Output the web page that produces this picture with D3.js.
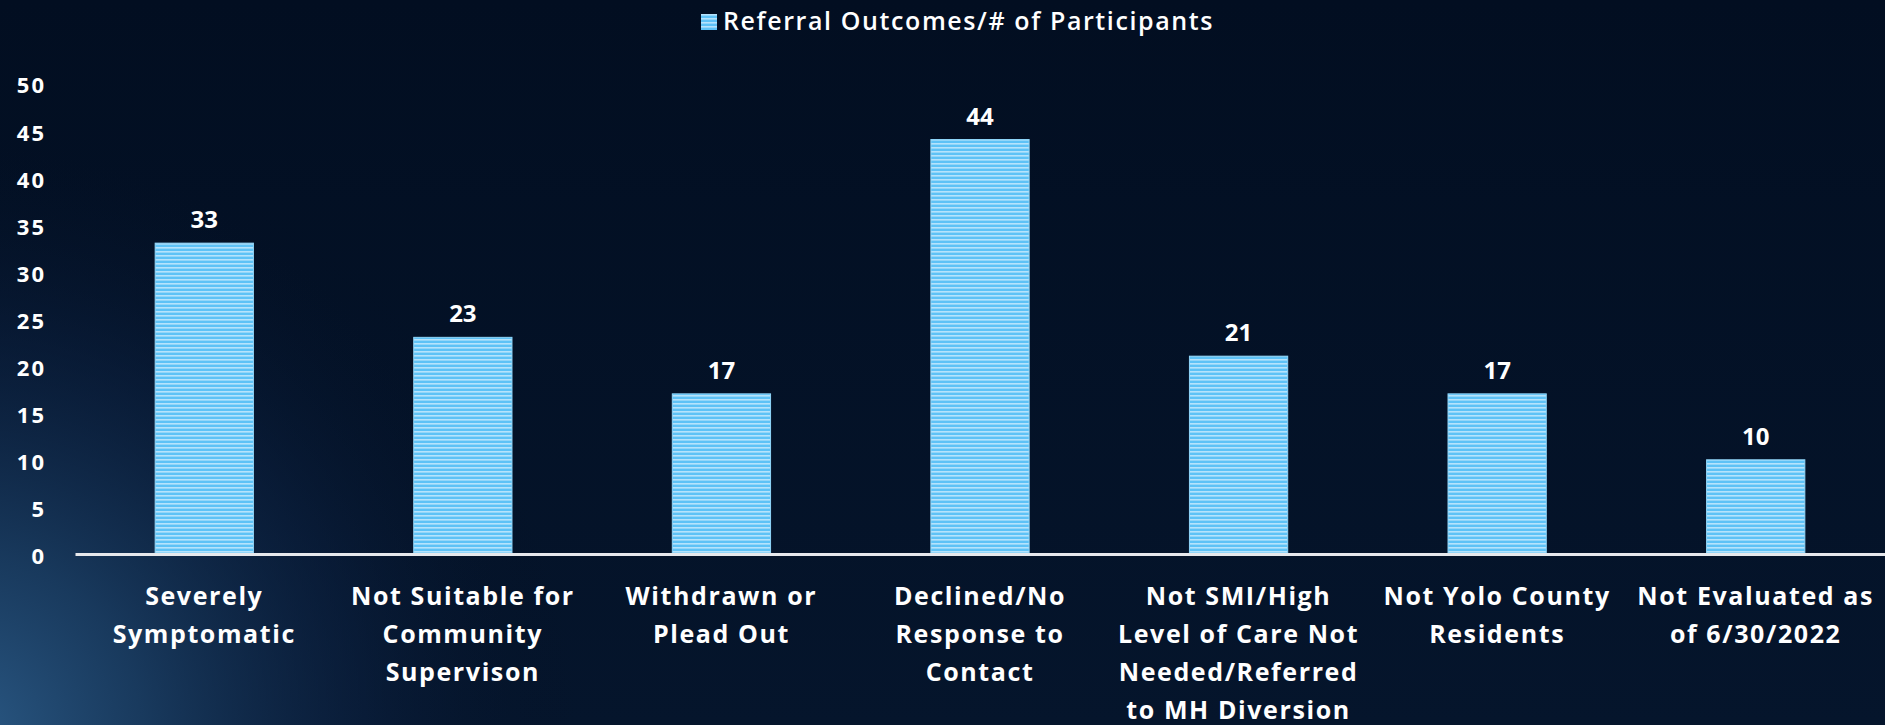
<!DOCTYPE html>
<html>
<head>
<meta charset="utf-8">
<script src="https://d3js.org/d3.v7.min.js"></script>
<style>
  body { margin: 0; background: #020d20; overflow: hidden; }
  text { font-family: "Open Sans", Lato, sans-serif; fill: #ffffff; }
</style>
</head>
<body>
<script>
// chart data
var categories = [
  ["Severely", "Symptomatic"],
  ["Not Suitable for", "Community", "Supervison"],
  ["Withdrawn or", "Plead Out"],
  ["Declined/No", "Response to", "Contact"],
  ["Not SMI/High", "Level of Care Not", "Needed/Referred", "to MH Diversion"],
  ["Not Yolo County", "Residents"],
  ["Not Evaluated as", "of 6/30/2022"]
];
var participants = [33, 23, 17, 44, 21, 17, 10];
var yTicks = [0, 5, 10, 15, 20, 25, 30, 35, 40, 45, 50];
var seriesName = "Referral Outcomes/# of Participants";

var svgWidth = 1885;
var svgHeight = 725;
var chartMargin = { top: 83, right: 0, bottom: 171, left: 75 };
var chartWidth = svgWidth - chartMargin.left - chartMargin.right;
var chartHeight = svgHeight - chartMargin.top - chartMargin.bottom;

var svg = d3.select("body")
  .append("svg")
  .attr("width", svgWidth)
  .attr("height", svgHeight);

var defs = svg.append("defs");

// background glow bottom-left
var glow = defs.append("radialGradient")
  .attr("id", "glow")
  .attr("gradientUnits", "userSpaceOnUse")
  .attr("cx", -40).attr("cy", 740).attr("r", 620);
glow.append("stop").attr("offset", "0%").attr("stop-color", "#2b5a86").attr("stop-opacity", 1);
glow.append("stop").attr("offset", "30%").attr("stop-color", "#1c4066").attr("stop-opacity", 0.85);
glow.append("stop").attr("offset", "65%").attr("stop-color", "#0e2547").attr("stop-opacity", 0.45);
glow.append("stop").attr("offset", "100%").attr("stop-color", "#020d20").attr("stop-opacity", 0);

var bg = defs.append("linearGradient")
  .attr("id", "bg")
  .attr("x1", 0).attr("y1", 0).attr("x2", 0).attr("y2", 1);
bg.append("stop").attr("offset", "0%").attr("stop-color", "#020e21");
bg.append("stop").attr("offset", "100%").attr("stop-color", "#05152c");

// striped bar fill
var stripes = defs.append("pattern")
  .attr("id", "stripes")
  .attr("patternUnits", "userSpaceOnUse")
  .attr("width", 8).attr("height", 4);
stripes.append("rect").attr("width", 8).attr("height", 4).attr("fill", "#5ec2f6");
stripes.append("rect").attr("y", 0).attr("width", 8).attr("height", 1.6).attr("fill", "#b6e3fc");

svg.append("rect").attr("width", svgWidth).attr("height", svgHeight).attr("fill", "url(#bg)");
svg.append("rect").attr("width", svgWidth).attr("height", svgHeight).attr("fill", "url(#glow)");

var chartGroup = svg.append("g")
  .attr("transform", `translate(${chartMargin.left}, ${chartMargin.top})`);

var xScale = d3.scaleBand()
  .domain(d3.range(categories.length))
  .range([0, chartWidth])
  .paddingInner(0.62)
  .paddingOuter(0.31);

var yScale = d3.scaleLinear()
  .domain([0, 50])
  .range([chartHeight, 0]);

// y tick labels (no axis line)
var leftAxis = d3.axisLeft(yScale)
  .tickValues(yTicks)
  .tickSize(0)
  .tickPadding(29);
chartGroup.append("g")
  .call(leftAxis)
  .call(g => g.select(".domain").remove())
  .selectAll("text")
  .attr("dy", "0.45em")
  .style("font-family", "'Open Sans', sans-serif")
  .style("font-size", "22px")
  .style("font-weight", "700")
  .style("letter-spacing", "2px")
  .style("fill", "#ffffff");

chartGroup.selectAll(".bar")
  .data(participants)
  .enter()
  .append("rect")
  .attr("class", "bar")
  .attr("x", (d, i) => xScale(i))
  .attr("y", d => yScale(d))
  .attr("width", xScale.bandwidth())
  .attr("height", d => chartHeight - yScale(d))
  .attr("fill", "url(#stripes)")
  .attr("stroke", "#8fd6fa")
  .attr("stroke-width", 1);

chartGroup.selectAll(".value")
  .data(participants)
  .enter()
  .append("text")
  .attr("class", "value")
  .attr("x", (d, i) => xScale(i) + xScale.bandwidth() / 2)
  .attr("y", d => yScale(d) - 15)
  .style("text-anchor", "middle")
  .style("font-size", "24px")
  .style("font-weight", "700")
  .text(d => d);

// x axis line
var bottomAxis = d3.axisBottom(xScale).tickSize(0).tickFormat("");
var xAxis = chartGroup.append("g")
  .attr("transform", `translate(0, ${chartHeight})`)
  .call(bottomAxis);
xAxis.select(".domain")
  .attr("stroke", "#e6e8ec")
  .attr("stroke-width", 3);

// category labels
var catLabels = chartGroup.selectAll(".cat")
  .data(categories)
  .enter()
  .append("text")
  .attr("class", "cat")
  .attr("y", chartHeight + 51)
  .style("text-anchor", "middle")
  .style("font-size", "25px")
  .style("font-weight", "700")
  .style("letter-spacing", "1.6px");
catLabels.selectAll("tspan")
  .data((d, i) => d.map(line => ({ line: line, i: i })))
  .enter()
  .append("tspan")
  .attr("x", d => xScale(d.i) + xScale.bandwidth() / 2)
  .attr("dy", (d, j) => j === 0 ? 0 : 38)
  .text(d => d.line);

// legend
var legend = svg.append("g")
  .attr("transform", "translate(701, 14)");
legend.append("rect")
  .attr("width", 16)
  .attr("height", 16)
  .attr("fill", "url(#stripes)");
legend.append("text")
  .attr("x", 22)
  .attr("y", 16)
  .style("font-size", "25px")
  .style("font-weight", "600")
  .style("letter-spacing", "1.6px")
  .text(seriesName);
</script>
</body>
</html>
